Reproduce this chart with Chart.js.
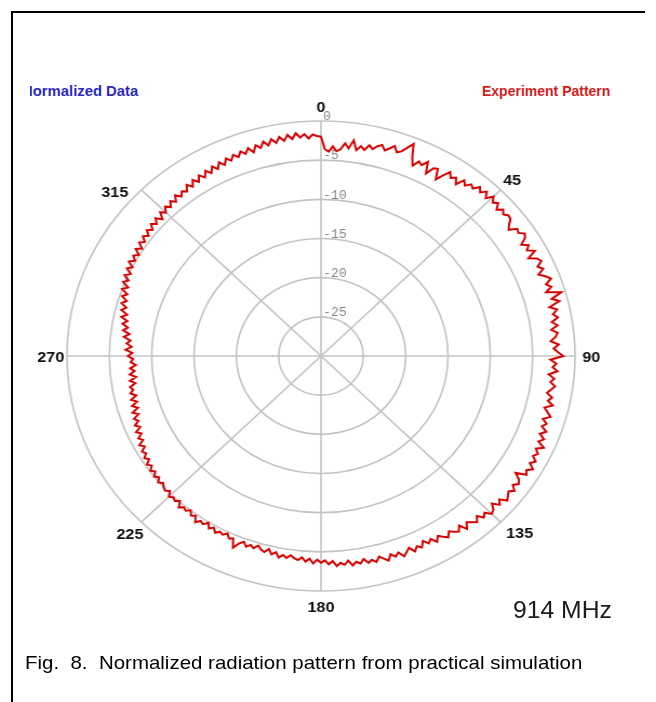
<!DOCTYPE html>
<html>
<head>
<meta charset="utf-8">
<script src="https://cdn.jsdelivr.net/npm/chart.js@4.4.1/dist/chart.umd.min.js"></script>
<style>
  html, body { margin: 0; padding: 0; background: #fff; }
  body { width: 656px; height: 702px; position: relative; overflow: hidden; font-family: "Liberation Sans", Arial, sans-serif; }
  #frame { position: absolute; left: 11px; top: 11px; width: 632px; height: 700px; border-left: 2px solid #000; border-top: 2px solid #000; }
  #plot { position: absolute; left: 21px; top: 36px; width: 600px; height: 640px; transform: scaleX(1.081); transform-origin: 300px 320px; }
  .clip { position: absolute; overflow: hidden; height: 20px; }
  .tag { position: absolute; top: 0; font-weight: bold; font-size: 14px; line-height: 20px; white-space: nowrap; transform-origin: left center; }
  #mhz { position: absolute; left: 513px; top: 596px; font-size: 24px; line-height: 28px; color: #1c1c1c; transform: scaleX(1.03); transform-origin: left center; }
  #caption { position: absolute; left: 25px; top: 652px; font-size: 19px; line-height: 22px; color: #000; white-space: pre; transform: scaleX(1.077); transform-origin: left center; }
</style>
</head>
<body>
<div id="frame"></div>
<div class="clip" style="left:30px; top:81px; width:120px;"><span class="tag" style="left:-8px; color:#2b2bbf; transform:scaleX(1.06);">Normalized Data</span></div>
<div class="clip" style="left:480px; top:81px; width:134px;"><span class="tag" style="left:2px; color:#d41c1c;">Experiment Pattern</span></div>
<div id="plot"><canvas id="polar" width="600" height="640"></canvas></div>
<div id="mhz">914 MHz</div>
<div id="caption">Fig.  8.  Normalized radiation pattern from practical simulation</div>
<script>
// measured pattern, one sample per degree (dB, normalized)
const angles = [];
for (let a = 0; a < 360; a++) angles.push(a);

const patternDb = [
  -2.0, -3.6, -3.9, -3.2, -3.8, -3.5, -2.7, -3.3, -2.2, -3.4,
  -2.8, -3.2, -2.5, -2.9, -2.4, -2.1, -2.7, -2.3, -1.8, -2.5,
  -2.2, -1.5, -0.8, -2.4, -3.4, -2.6, -2.9, -2.2, -3.6, -2.6,
  -2.4, -3.7, -2.8, -2.0, -2.6, -2.2, -2.9, -1.9, -2.4, -1.8,
  -2.1, -1.4, -1.9, -1.3, -2.0, -1.2, -1.8, -1.4, -2.1, -1.5,
  -1.9, -1.5, -1.6, -2.2, -2.6, -1.7, -1.9, -1.3, -1.6, -2.4,
  -1.7, -2.2, -1.4, -2.5, -1.6, -1.3, -2.0, -1.5, -2.3, -1.6,
  -1.1, -1.9, -1.4, -2.2, -0.5, -1.8, -1.0, -2.3, -1.5, -2.1,
  -1.6, -2.4, -1.8, -2.6, -1.9, -2.2, -2.8, -1.9, -2.5, -2.0,
  -1.4, -2.9, -2.2, -2.6, -2.0, -3.0, -2.3, -2.7, -2.1, -2.5,
  -2.9, -2.2, -2.6, -1.9, -2.8, -2.3, -1.8, -2.6, -2.0, -2.4,
  -1.7, -2.3, -1.6, -2.1, -1.2, -2.0, -1.5, -1.9, -1.3, -1.8,
  -1.1, -1.7, -1.4, -2.6, -1.8, -1.5, -2.0, -1.4, -1.9, -1.6,
  -1.3, -2.1, -1.6, -2.4, -1.7, -1.5, -2.2, -1.8, -2.5, -1.9,
  -2.3, -2.7, -2.0, -2.9, -2.3, -2.6, -3.0, -2.4, -2.8, -3.2,
  -2.6, -3.3, -2.9, -3.5, -2.8, -3.2, -2.7, -3.4, -3.0, -2.6,
  -3.3, -2.9, -3.4, -2.7, -3.1, -3.5, -2.9, -3.3, -3.0, -3.6,
  -3.1, -3.4, -3.0, -3.7, -3.2, -3.5, -3.1, -3.8, -3.4, -3.9,
  -3.6, -4.0, -3.5, -4.1, -3.7, -4.2, -3.8, -4.0, -4.3, -3.9,
  -4.2, -3.8, -4.4, -4.0, -4.6, -4.1, -4.3, -4.7, -4.2, -4.5,
  -4.1, -4.6, -4.2, -3.4, -4.5, -4.3, -4.8, -4.4, -4.6, -4.2,
  -4.7, -4.3, -4.9, -4.4, -4.6, -4.1, -4.8, -4.5, -5.0, -4.6,
  -4.8, -4.4, -5.1, -4.7, -4.9, -4.6, -5.2, -4.8, -5.0, -5.3,
  -4.9, -5.4, -5.0, -5.5, -5.1, -5.6, -5.2, -5.8, -5.4, -5.9,
  -5.6, -6.2, -5.7, -6.4, -6.0, -6.6, -6.1, -6.8, -6.3, -6.9,
  -6.5, -7.2, -6.6, -7.4, -6.8, -7.5, -6.9, -7.6, -7.0, -7.4,
  -7.1, -7.8, -7.2, -8.0, -7.3, -7.9, -7.4, -8.1, -7.5, -7.8,
  -7.2, -7.7, -6.9, -7.6, -7.0, -7.4, -6.6, -7.2, -6.4, -6.9,
  -6.2, -6.7, -5.9, -6.5, -5.7, -6.2, -5.5, -6.0, -5.3, -5.8,
  -5.0, -5.6, -4.8, -5.3, -4.6, -5.2, -4.5, -5.0, -4.3, -4.9,
  -4.4, -4.9, -4.2, -4.8, -4.1, -4.6, -4.0, -4.5, -3.9, -4.4,
  -3.8, -4.3, -3.7, -4.4, -3.6, -4.1, -3.5, -4.0, -3.4, -3.9,
  -3.2, -3.8, -3.3, -3.7, -3.0, -3.6, -2.9, -3.5, -2.8, -3.4,
  -2.7, -3.3, -2.6, -3.2, -2.5, -3.1, -2.4, -2.9, -2.3, -2.8,
  -2.2, -2.7, -2.1, -2.8, -2.0, -2.5, -1.8, -2.4, -1.7, -2.3,
  -1.6, -2.2, -1.5, -2.1, -1.4, -2.0, -1.6, -2.2, -1.7, -1.9
];

const angleTicks = [0, 45, 90, 135, 180, 225, 270, 315];
const dbTicks = [0, -5, -10, -15, -20, -25];

const gridGray = '#c3c3c3';

// a couple of bearing labels sit off the plain radial spot
const labelNudge = { 135: [7, -1], 315: [-14, 12] };

// labels for rings and bearings, drawn under the trace
const polarLabels = {
  id: 'polarLabels',
  beforeDatasetsDraw(chart) {
    const r = chart.scales.r;
    const ctx = chart.ctx;
    ctx.save();
    ctx.fillStyle = '#858585';
    ctx.font = '12px "Liberation Mono", monospace';
    ctx.textAlign = 'left';
    ctx.textBaseline = 'bottom';
    dbTicks.forEach(v => {
      const p = r.getPointPositionForValue(0, v);
      ctx.fillText(String(v), p.x + 2, p.y + 2);
    });
    ctx.fillStyle = '#111';
    ctx.font = 'bold 15px "Liberation Sans", Arial, sans-serif';
    ctx.textAlign = 'center';
    ctx.textBaseline = 'middle';
    angleTicks.forEach(a => {
      const p = r.getPointPosition(angles.indexOf(a), r.drawingArea + 15);
      const [dx, dy] = labelNudge[a] || [0, 0];
      ctx.fillText(String(a), p.x + dx, p.y + dy + 2);
    });
    ctx.restore();
  }
};

new Chart(document.getElementById('polar'), {
  type: 'radar',
  data: {
    labels: angles,
    datasets: [{
      data: patternDb,
      borderColor: '#d80000',
      borderWidth: 2,
      pointRadius: 0,
      fill: false,
      tension: 0
    }]
  },
  options: {
    responsive: false,
    animation: false,
    layout: { padding: { left: 65, right: 65, top: 85, bottom: 85 } },
    plugins: { legend: { display: false }, tooltip: { enabled: false } },
    scales: {
      r: {
        min: -30,
        max: 0,
        ticks: { stepSize: 5, display: false },
        pointLabels: { display: false },
        grid: { circular: true, color: gridGray, lineWidth: 1.6 },
        angleLines: {
          color: gridGray,
          lineWidth: ctx => (angleTicks.includes(angles[ctx.index]) ? 1.6 : 0)
        }
      }
    }
  },
  plugins: [polarLabels]
});
</script>
</body>
</html>
